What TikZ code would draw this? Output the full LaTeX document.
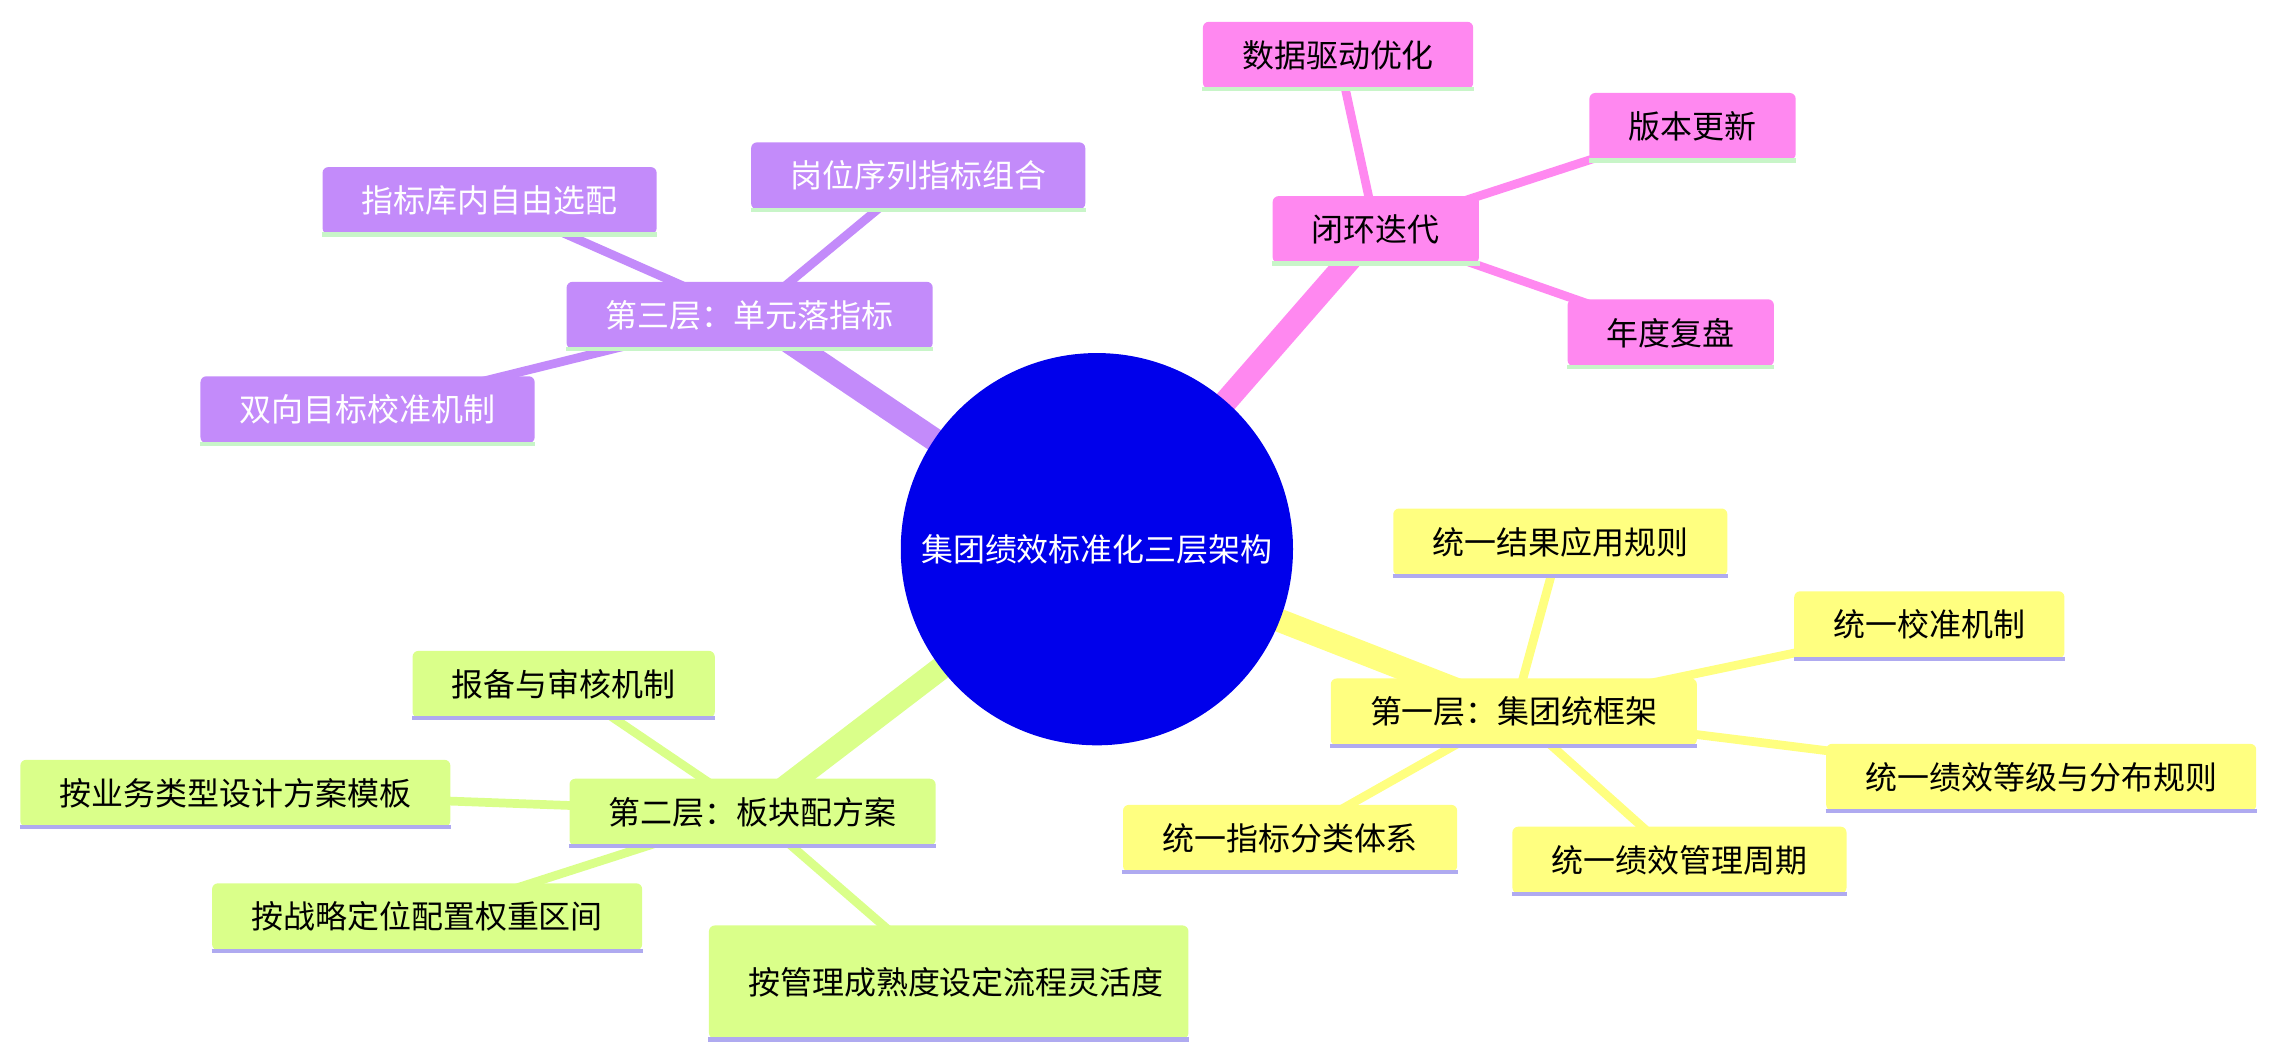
\documentclass[tikz,border=0pt]{standalone}
\usepackage{fontspec}
\setmainfont{Noto Sans CJK SC}
\definecolor{cPu}{RGB}{195,139,250}
\definecolor{cPk}{RGB}{255,136,240}
\definecolor{cY}{RGB}{255,255,128}
\definecolor{cG}{RGB}{218,255,138}
\definecolor{lg}{RGB}{200,245,200}
\definecolor{lv}{RGB}{175,170,240}
\definecolor{cB}{RGB}{0,0,235}
\begin{document}
\begin{tikzpicture}[x={(0.5pt,0pt)},y={(0pt,-0.5pt)},
 mbox/.style={rounded corners=2pt,inner xsep=13.5pt,minimum height=23pt,font=\fontsize{11}{14}\selectfont,align=center},
 pur/.style={mbox,fill=cPu,text=white},
 pnk/.style={mbox,fill=cPk,text=black},
 yel/.style={mbox,fill=cY,text=black},
 grn/.style={mbox,fill=cG,text=black},
 ul/.style={line width=1.5pt},
]
\useasboundingbox (0,0) rectangle (1568,730);
\coordinate (c) at (755,378);
\coordinate (pc) at (516,217);
\coordinate (kc) at (947,158);
\coordinate (yc) at (1042,490);
\coordinate (gc) at (518,559);
% connectors
\draw[cPu,line width=3pt] (pc) -- (337,138) (pc) -- (632,121) (pc) -- (253,282);
\draw[cPk,line width=3pt] (kc) -- (921,38) (kc) -- (1165,87) (kc) -- (1150,229);
\draw[cY,line width=3pt] (yc) -- (1074,373) (yc) -- (1328,430) (yc) -- (1405,535) (yc) -- (1156,592) (yc) -- (888,577);
\draw[cG,line width=3pt] (gc) -- (388,471) (gc) -- (162,546) (gc) -- (294,631) (gc) -- (653,676);
\draw[cPu,line width=8pt] (c) -- (pc);
\draw[cPk,line width=8pt] (c) -- (kc);
\draw[cY,line width=8pt] (c) -- (yc);
\draw[cG,line width=8pt] (c) -- (gc);
\fill[cB] (c) circle[radius=67.5pt];
\node[text=white,font=\fontsize{11}{14}\selectfont] (cn) at (c) {集团绩效标准化三层架构};
% nodes
\node[pur] (p) at (pc) {第三层：单元落指标};
\node[pur] (p1) at (337,138) {指标库内自由选配};
\node[pur] (p2) at (632,121) {岗位序列指标组合};
\node[pur] (p3) at (253,282) {双向目标校准机制};
\node[pnk] (k) at (kc) {闭环迭代};
\node[pnk] (k1) at (921,38) {数据驱动优化};
\node[pnk] (k2) at (1165,87) {版本更新};
\node[pnk] (k3) at (1150,229) {年度复盘};
\node[yel] (y) at (yc) {第一层：集团统框架};
\node[yel] (y1) at (1074,373) {统一结果应用规则};
\node[yel] (y2) at (1328,430) {统一校准机制};
\node[yel] (y3) at (1405,535) {统一绩效等级与分布规则};
\node[yel] (y4) at (1156,592) {统一绩效管理周期};
\node[yel] (y5) at (888,577) {统一指标分类体系};
\node[grn] (g) at (gc) {第二层：板块配方案};
\node[grn] (g1) at (388,471) {报备与审核机制};
\node[grn] (g2) at (162,546) {按业务类型设计方案模板};
\node[grn] (g3) at (294,631) {按战略定位配置权重区间};
\node[grn,text width=138pt,minimum height=39pt] (g4) at (653,676) {按管理成熟度设定流程灵活度};
\foreach \n in {p,p1,p2,p3,k,k1,k2,k3} {\draw[lg,ul] (\n.south west) -- (\n.south east);}
\foreach \n in {y,y1,y2,y3,y4,y5,g,g1,g2,g3,g4} {\draw[lv,ul] (\n.south west) -- (\n.south east);}
\end{tikzpicture}
\end{document}
